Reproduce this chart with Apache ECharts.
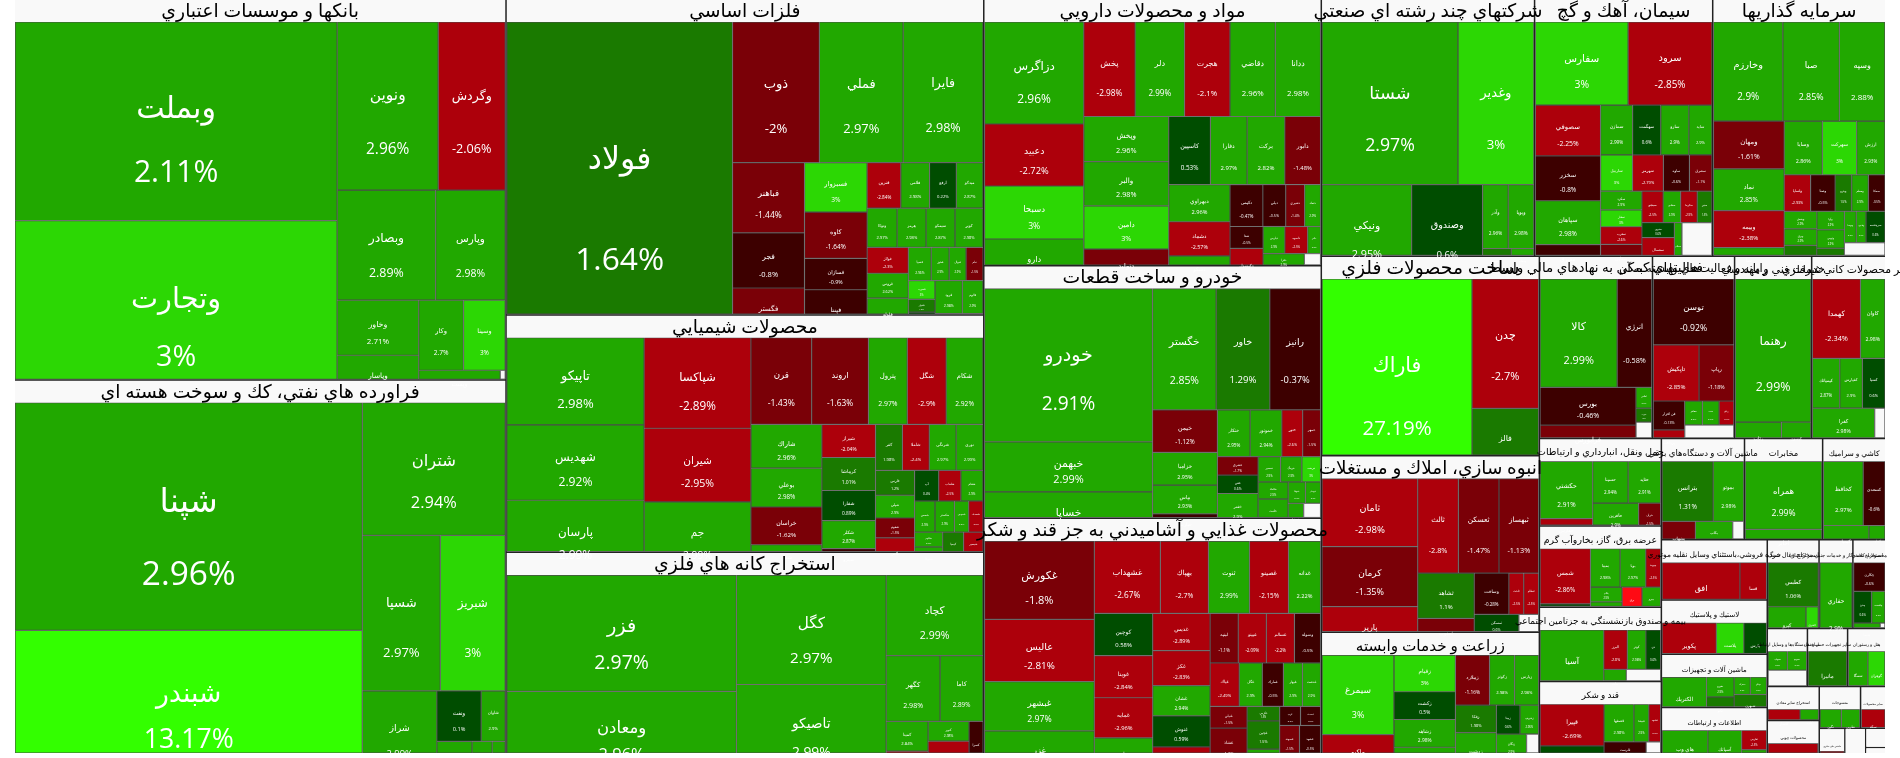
<!DOCTYPE html>
<html><head><meta charset="utf-8"><style>html,body{margin:0;padding:0;background:#fff}#c{width:1900px;height:758px}</style>
<script src="https://cdn.jsdelivr.net/npm/echarts@6/dist/echarts.min.js"></script></head><body><div id="c"></div><script>
const sectorNames=['بانکها و موسسات اعتباري','فراورده هاي نفتي، كك و سوخت هسته اي','فلزات اساسي','محصولات شيميايي','استخراج كانه هاي فلزي','مواد و محصولات دارويي','خودرو و ساخت قطعات','محصولات غذايي و آشاميدني به جز قند و شكر','شرکتهاي چند رشته اي صنعتي','سيمان، آهك و گچ','سرمايه گذاريها','ساخت محصولات فلزي','انبوه سازي، املاك و مستغلات','زراعت و خدمات وابسته','فعاليتهاي كمكي به نهادهاي مالي واسط','رايانه و فعاليت‌هاي وابسته به آن','خدمات فني و مهندسي','ساير محصولات كاني غيرفلزي','حمل ونقل، انبارداري و ارتباطات','عرضه برق، گاز، بخاروآب گرم','بيمه و صندوق بازنشستگي به جزتامين اجتماعي','قند و شكر','ماشين آلات و دستگاه‌هاي برقي','مخابرات','كاشي و سراميك','خرده فروشي،باستثناي وسايل نقليه موتوري','لاستيك و پلاستيك','ماشين آلات و تجهيزات','اطلاعات و ارتباطات','استخراج زغال سنگ','استخراج نفت گاز و خدمات جنبي جز اكتشاف','محصولات كاغذي','ساخت دستگاه‌ها و وسايل ارتباطي','ساير تجهيزات حمل و نقل','هتل و رستوران','استخراج ساير معادن','محصولات چوبي','منسوجات','ساير محصولات','ماشين هاي دفتري','چاپ','دباغي','نساجي'];
const sectorCaps=[186580,183143,150255,113049,95877,89642,84924,79195,54600,45600,44300,43382,38368,26378,20566,14924,14014,13468,10614,9882,9028,8784,8383,7878,6363,6360,5724,5618,4876,4576,2992,2904,2320,2320,2204,1768,1716,1722,1050,650,525,385,125];

const banksN=['وبملت','وتجارت','ونوين','وگردش','وبصادر','وپارس','وخاور','وپاسار','وكار','وسينا','وپست',''];
const banksC=[2.11,3,2.96,-2.06,2.89,2.98,2.71,2.9,2.7,3,2.9,null];
const banksV=[64277,58463,17069,11323,10890,7700,4510,3772,3150,2940,2542,155];

const refineryN=['شپنا','شبندر','شتران','شسپا','شبريز','شراز','ونفت','شاوان','شبهرن','شپاس','شنفت'];
const refineryC=[2.96,13.17,2.94,2.97,3,2.99,0.1,2.9,2.9,2.9,2.9];
const refineryV=[79344,50460,19019,12168,10140,6300,2244,1224,1190,680,442];

const metalsN=['فولاد','ذوب','فملي','فايرا','فباهنر','فجر','فگستر','فسبزوار','كاوه','فسازان','فپنتا','فنرين','فلامي','ارفع','ميدكو','وتوكا','هرمز','سيمكو','كوير','فولاژ','فروس','فلوله','فسپا','فخوز','فنوال','ثنام','فسرب','فاهواز','فجهان','فزرين','فرود','فالوم',''];
const metalsC=[1.64,-2,2.97,2.98,-1.44,-0.8,-1.5,3,-1.64,-0.9,-0.6,-2.84,2.98,0.22,2.87,2.97,2.98,2.87,2.98,-2.3,2.62,2.98,2.96,2.9,2.9,-1.5,3,1.3,0.4,2.9,2.98,2.9,null];
const metalsV=[70738,12180,11760,11200,5040,3960,3456,3087,2898,1953,2898,1530,1305,1215,1215,1170,1131,1131,1092,1066,1025,1558,759,594,561,561,500,340,320,320,900,680,1080];

const chemN=['تاپيكو','شهديس','پارسان','شپاكسا','شيران','جم','قرن','اروند','پترول','شگل','شكام','شاراك','بوعلي','خراسان','شفن','شيراز','كرماشا','شفارا','شكلر','شپترو','كفر','شاملا','شرنگي','نوري','فارس','شپلي','شفوم','پلاس','آپ','شلعاب','شفام','شمس','شگستر','شدوص','شصدف','شالوم','شتوكا','كيميا','شبصير','شرانل'];
const chemC=[2.98,2.92,2.99,-2.89,-2.95,2.99,-1.43,-1.63,2.97,-2.9,2.92,2.96,2.98,-1.62,2.9,-2.04,1.01,0.89,2.87,-0.5,1.98,-2.4,2.97,2.99,1.2,2.9,-1.5,-2.5,0.4,-2.5,2.9,2.9,2.9,2.9,-2.6,2.9,2.9,1.5,-2.5,-0.5];
const chemV=[12056,10412,10138,9737,7918,7704,5307,4959,3393,3393,3219,3124,2769,2698,2059,1782,1782,1620,1512,1350,1242,1242,1242,1242,975,897,780,1404,744,682,682,640,608,448,448,420,756,588,546,546];

const miningN=['فزر','ومعادن','كگل','تاصيكو','كچاد','كگهر','كاما','كمينا','كبافق','كنور','كروي','كسرا'];
const miningC=[2.97,2.96,2.97,2.99,2.99,2.98,2.89,2.84,-2.5,2.98,-2.5,-0.5];
const miningV=[26910,19320,16500,13650,7857,3564,2838,1260,1008,820,1394,756];

const drugsN=['دزاگرس','دعبيد','دسبحا','دارو','پخش','دلر','هجرت','دقاضي','ددانا','وپخش','والبر','دامين','دتوليد','كاسپين','دفارا','بركت','دابور','ديهراوي','دشماد','دسكو','دكيمي','ديلي','دشيري','دتماد','شفا','دكپسول','دپارس','داسوه','دالبر','دفرا','دلقما',''];
const drugsC=[2.96,-2.72,3,2.9,-2.98,2.99,-2.1,2.96,2.98,2.96,2.98,3,-1.8,0.53,2.97,2.82,-1.48,2.96,-2.57,2.9,-0.47,-0.5,-1.4,2.9,-0.5,-2.5,2.9,-2.5,2.9,2.9,3,null];
const drugsV=[10200,6200,5300,4800,4888,4700,4324,4324,4300,3864,3780,3696,3250,2856,2516,2584,2448,2294,2108,1922,1386,966,798,672,726,1287,594,621,351,646,748,544];

const autoN=['خودرو','خبهمن','خساپا','خگستر','خاور','رانيز','خيمن','خزاميا','بپاس','خپارس','ختكار','خموتور','ختور','خمهر','خشرق','خفن','خفنر','خكار','خنصير','خرينگ','خريخت','خكمك','خلنت','خاذين','ختوقا','خوساز','خصدرا',''];
const autoC=[2.91,2.99,2.9,2.85,1.29,-0.37,-1.12,2.95,2.93,-0.5,2.95,2.94,-2.6,-1.5,-1.7,0.6,2.9,-2.6,2.9,2.9,3,2.9,2.9,0.6,2.9,2.9,2.9,null];
const autoV=[26052,8517,8100,7808,6588,6222,2795,2145,1885,1690,1551,1504,987,846,759,759,1254,640,576,544,480,520,832,400,375,325,567,621];

const foodN=['غكورش','عاليس','غبشهر','غزر','غشهداب','بهپاك','ثنوت','غصينو','غدانه','كوچين','غويتا','غمايه','دلر','غديس','غكز','غشان','غنوش','غالبر','لبنيه','غپينو','غسالم','وسوله','غپاك','غگل','غمارك','غبهار','غدشت','غنيلي','غشاذ','غفارس','غگرجي','غچين','غحصار','غاذر','غرب','غصدف','غسهند','غشهد',''];
const foodC=[-1.8,-2.81,2.97,2.9,-2.67,-2.7,2.99,-2.15,2.22,0.58,-2.84,-2.96,2.9,-2.89,-2.83,2.94,0.59,-2.5,-1.1,-2.09,-2.2,-0.5,-2.49,2.9,-0.5,2.9,2.9,-1.5,-1.3,-2.5,1.5,1.5,2.9,2.9,-0.5,-0.5,-1.5,-0.5,null];
const foodV=[8658,6882,5439,4884,4818,3504,2993,2847,2336,2478,2478,2360,2183,2146,2030,1740,1798,1624,1400,1400,1400,1300,1276,1012,924,836,792,806,1271,476,476,924,425,425,400,384,624,663,752];

const chandN=['شستا','وغدير','ونيكي','وصندوق','وآذر','وپويا','وسپهر','ومعلم'];
const chandC=[2.97,3,2.95,0.6,2.96,2.98,1.5,2.9];
const chandV=[22494,12551,8463,6696,1664,1664,841,667];

const cementN=['سفارس','سرود','سصوفي','سخزر','سپاهان','مشرق','سمازن','سهگمت','سارو','سايد','ساربيل','سهرمز','ساوه','سشرق','سكرد','سفار','سغرب','سقاين','سبجنو','سفانو','سكرما','سنير','سنوين','سشمال','سدور','سيلام',''];
const cementC=[3,-2.85,-2.25,-0.8,2.98,-0.5,2.99,0.6,2.9,2.9,3,-2.79,-0.6,-1.1,2.9,3,-2.6,-1.5,-2.5,2.9,-2.9,1.5,0.6,-2.5,2.9,2.9,null];
const cementV=[7719,6972,3315,2925,2860,2145,1600,1400,1400,1150,1161,1118,946,817,774,700,735,1365,667,551,522,464,486,891,400,412,1650];

const investN=['وخارزم','صبا','وسپه','ومهان','نماد','وبيمه','سا','وسايا','سهركت','ارزش','ولساپا','وصنا','وپترو','ومعلم','سمگا','وپخش','وبرق','وملت','وآوا','وتوس','ومدير','وتوصا','وهامون','سرچشمه',''];
const investC=[2.9,2.85,2.88,-1.61,2.85,-2.38,2.9,2.86,3,2.93,-2.93,-0.5,1.5,2.9,-0.5,2.9,2.9,1.5,2.9,2.9,1.5,2.9,2.9,0.6,null];
const investV=[6930,5643,4554,3408,2982,2627,2130,2067,1855,1537,972,900,612,612,612,576,544,1056,513,513,810,374,308,598,1426];

const fmetalN=['فاراك','چدن','فالز'];
const fmetalC=[27.19,-2.7,1.9];
const fmetalV=[30049,8710,4623];

const buildN=['ثامان','كرمان','پارير','ثالث','ثعسكن','ثبهساز','ثشاهد','ثجنوب','وساخت','ثاخت','ثنظام','ثمسكن','ثرود',''];
const buildC=[-2.98,-1.35,-2.5,-2.8,-1.47,-1.13,1.1,-1.5,-0.28,-2.5,-2.5,0.6,1.5,null];
const buildV=[6528,5760,4512,3854,3854,3760,2565,1995,1435,615,615,897,858,780];

const agriN=['سيمرغ','ماكيو','زقيام','زكشت','زشاهد','زماهان','زملارد','زكوثر','زپارس','زفكا','زدشت','زبينا','زشريف','زنگان','زگلدشت',''];
const agriC=[3,-2.5,3,0.5,2.98,2.9,-1.16,2.98,2.98,1.98,2.9,0.6,2.96,2.9,2.9,null];
const agriV=[5832,2952,2294,1736,1736,1736,1734,1275,1224,1148,1763,696,551,714,546,504];

const brokerN=['كالا','انرژي','بورس','فرابورس','اطلس','سپرده',''];
const brokerC=[2.99,-0.58,-0.46,-1.5,2.9,1.5,null];
const brokerV=[8502,3815,3686,3395,336,224,608];

const softN=['توسن','تاپكيش','رپاپ','فن افزار','پرداخت','مفاخر','سپ','رتكو',''];
const softC=[-0.92,-2.85,-1.18,-0.13,-2.5,2.9,2.9,-2.5,null];
const softV=[5412,2622,1995,928,960,432,408,360,1750];

const techN=['رهنما','رتاپ','كيسون'];
const techC=[2.99,2.9,2.9];
const techV=[11088,1786,1140];

const nonmetalN=['كهمدا','كاوان','كيمياتك','كفپارس','كسپا','كفرا','كمرجان',''];
const nonmetalC=[-2.34,2.98,2.87,2.9,0.6,2.98,-2.8,null];
const nonmetalV=[4080,2080,1450,1200,1200,2028,1404,572];

const transportN=['حكشتي','حفارس','حسينا','حتايد','حآفرين','حپترو','حريل',''];
const transportC=[2.91,-2.5,2.94,2.91,2.9,-1.5,-1.5,null];
const transportV=[3074,1537,1512,1386,1395,675,630,360];

const powerN=['شمس','بجهرم','بميبا','بوبا','بپيوند','بكام','بكاب','برق','بنيرو',''];
const powerC=[-2.86,0.6,2.98,2.97,-2.5,2.9,2.9,-5,2.9,null];
const powerV=[2856,1275,1170,1014,585,480,864,588,546,504];

const insuranceN=['آسيا','البرز','كوثر','دي','ملت',''];
const insuranceC=[2.98,-2.8,2.98,0.6,2.9,null];
const insuranceV=[4680,936,741,585,759,1155];

const sugarN=['قپيرا','قاسم','قصفها','قنيشا','قشهد','قلرست','قثابت',''];
const sugarC=[-2.69,0.6,2.98,2.9,-2.5,-0.5,-2.5,null];
const sugarV=[2795,1950,1178,589,465,837,630,504];

const electricN=['بترانس','بموتو','بشهاب','بكاب','بالبر',''];
const electricC=[1.31,2.98,-1.5,2.98,-1.5,null];
const electricV=[3050,1830,1320,1000,480,440];

const telecomN=['همراه','اخابر'];
const telecomC=[2.99,2.9];
const telecomV=[5382,2496];

const tileN=['كحافظ','كسعدي','كيميا','كساوه'];
const tileC=[2.97,-0.6,2.9,2.9];
const tileV=[2730,1495,1728,612];

const retailN=['افق','فسا'];
const retailC=[-2.92,-2.5];
const retailV=[4740,1620];

const plasticN=['پكوير','پلاست','پارس'];
const plasticC=[-2.8,3,0.6];
const plasticV=[2970,1512,1242];

const machineN=['الكتريك','تفيرو','تكنو','تمحركه','تيپيكو','شبهرن',''];
const machineC=[2.96,2.9,1.5,2.9,2.9,1.5,null];
const machineV=[2340,560,896,289,289,875,258];

const ictN=['هاي وب','آسياتك','ثفارس','ارتباط'];
const ictC=[2.9,2.9,-2.5,2.9];
const ictV=[2116,1564,500,650];

const coalN=['كطبس','كپرو','كشرق'];
const coalC=[1.06,2.98,3];
const coalV=[2340,1720,559];

const drillN=['حفاري'];
const drillC=[2.9];
const drillV=[2244];

const paperN=['چكارن','چدن','چافست','چبسا',''];
const paperC=[-0.6,0.6,2.9,2.9,null];
const paperV=[957,608,448,756,135];

const commN=['بشهاب','بسويچ',''];
const commC=[2.9,2.9,null];
const commV=[390,390,1540];

const transEqN=['مانيرا'];
const transEqC=[1.5];
const transEqV=[1360];

const hotelN=['سمگا','گوهران',''];
const hotelC=[2.98,3,null];
const hotelV=[1102,972,54];

const otherMineN=['كاسار','كلوند'];
const otherMineC=[-2.5,2.9];
const otherMineV=[1089,627];

const woodN=['چفيبر',''];
const woodC=[-2.5,null];
const woodV=[1680,20];

const textileN=['نگين','نطرين'];
const textileC=[2.9,2.9];
const textileV=[902,779];

const otherN=['سكه'];
const otherC=[-2.5];
const otherV=[456];

const officeN=['مداد'];
const officeC=[-2.5];
const officeV=[650];

const tickerNames=[banksN,refineryN,metalsN,chemN,miningN,drugsN,autoN,foodN,chandN,cementN,investN,fmetalN,buildN,agriN,brokerN,softN,techN,nonmetalN,transportN,powerN,insuranceN,sugarN,electricN,telecomN,tileN,retailN,plasticN,machineN,ictN,coalN,drillN,paperN,commN,transEqN,hotelN,otherMineN,woodN,textileN,otherN,officeN,[],[],[]];
const tickerChanges=[banksC,refineryC,metalsC,chemC,miningC,drugsC,autoC,foodC,chandC,cementC,investC,fmetalC,buildC,agriC,brokerC,softC,techC,nonmetalC,transportC,powerC,insuranceC,sugarC,electricC,telecomC,tileC,retailC,plasticC,machineC,ictC,coalC,drillC,paperC,commC,transEqC,hotelC,otherMineC,woodC,textileC,otherC,officeC,[],[],[]];
const tickerValues=[banksV,refineryV,metalsV,chemV,miningV,drugsV,autoV,foodV,chandV,cementV,investV,fmetalV,buildV,agriV,brokerV,softV,techV,nonmetalV,transportV,powerV,insuranceV,sugarV,electricV,telecomV,tileV,retailV,plasticV,machineV,ictV,coalV,drillV,paperV,commV,transEqV,hotelV,otherMineV,woodV,textileV,otherV,officeV,[],[],[]];

const FONT="'Open Sans','DejaVu Sans',sans-serif";
const HEADER=22;
function colorOf(p){
  if(p==null) return '#f9f9f9';
  if(p>=4) return '#33ff00';
  if(p>=3) return '#2cd704';
  if(p>=2) return '#21a800';
  if(p>=1) return '#1a7a00';
  if(p>=0) return '#004d00';
  if(p>-1) return '#3d0000';
  if(p>=-2) return '#7a0007';
  if(p>-3) return '#ad000b';
  return '#ff0a14';
}
/* each sector lays its tickers out over its whole box, then the tickers slide down under the header and the overflow is cut */
echarts.registerLayout(1500,function(ecModel){
  ecModel.eachSeriesByType('treemap',function(s){
    const root=s.getData().tree.root;
    (root.children||[]).forEach(g=>{
      const gl=g.getLayout();
      if(!gl||!g.children||!g.children.length) return;
      g.setLayout({upperLabelHeight:HEADER,upperHeight:HEADER},true);
      g.children.forEach(n=>{
        const l=n.getLayout();
        if(!l||l.realHeight!=null) return;
        const y=l.y+HEADER;
        const h=Math.max(0,Math.min(l.height,gl.height-y));
        n.setLayout({y:y,height:h,realHeight:l.height,invisible:h<=0},true);
      });
    });
  });
});
function leafLabel(name,p,lay){
  if(p==null||!lay||!lay.height) return {show:false};
  const h=lay.realHeight, vis=lay.height;
  const fs=0.119*Math.sqrt(lay.width*h);
  const lh=Math.min(0.32*h,0.45*vis);
  const nameY=0.44*h;
  const pctY=nameY+lh;
  const two=pctY-0.45*fs<=vis;
  const cy=two?nameY+lh/2:nameY;
  return {show:true,position:'inside',align:'center',verticalAlign:'middle',padding:0,color:'#fff',fontFamily:FONT,
    fontSize:fs,lineHeight:lh,overflow:'none',ellipsis:'',offset:[0,cy-vis/2],
    formatter:two?(name+'\n'+p+'%'):name};
}
function buildData(root){
  return sectorNames.map((s,i)=>{
    const node=root&&root.children[i];
    const fs=Math.min(18.8,0.094*Math.sqrt(sectorCaps[i]));
    const names=tickerNames[i];
    const base={name:s,value:sectorCaps[i]};
    if(!names.length) return Object.assign(base,{name:'',itemStyle:{color:'#f9f9f9',borderColor:'#f9f9f9'},label:{show:false}});
    base.upperLabel={show:true,height:0,position:'insideBottom',distance:fs>14?1:4,color:'#000',fontFamily:FONT,fontSize:fs,lineHeight:fs,overflow:'none',ellipsis:'',align:'center',verticalAlign:'bottom'};
    base.children=names.map((n,j)=>{
      const lay=node&&node.children[j]&&node.children[j].getLayout();
      const p=tickerChanges[i][j];
      return {name:n,value:tickerValues[i][j],itemStyle:{color:colorOf(p),borderColor:'rgba(45,45,45,0.85)',borderWidth:0.6},
        label:leafLabel(n,p,lay)};
    });
    return base;
  });
}
const chart=echarts.init(document.getElementById('c'),null,{renderer:'canvas'});
function opt(data){return {animation:false,tooltip:{show:false},series:[{type:'treemap',left:15,top:0,width:1870,height:753,sort:false,visibleMin:0,roam:false,nodeClick:false,breadcrumb:{show:false},squareRatio:0.5*(1+Math.sqrt(5)),
  levels:[{itemStyle:{borderWidth:0,gapWidth:1.5,borderColor:'#222'}},{itemStyle:{borderWidth:0,gapWidth:0,borderColor:'#f9f9f9'}},{itemStyle:{gapWidth:0}}],
  emphasis:{disabled:true},data}]};}
chart.setOption(opt(buildData(null)));
const tree=chart.getModel().getSeriesByIndex(0).getData().tree;
chart.setOption(opt(buildData(tree.root)));
</script></body></html>
